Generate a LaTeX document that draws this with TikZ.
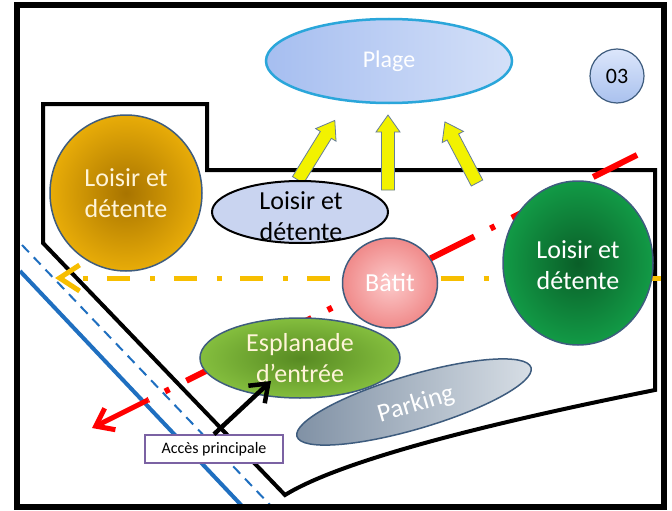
\documentclass[tikz,border=0pt]{standalone}
\usepackage{fontspec}
\setmainfont{Carlito}
\usetikzlibrary{shapes.geometric,arrows.meta}
\definecolor{goldout}{HTML}{E8AC08}
\definecolor{goldin}{HTML}{A87400}
\definecolor{greenout}{HTML}{129A46}
\definecolor{greenin}{HTML}{0A5E28}
\definecolor{pinkout}{HTML}{F08A8A}
\definecolor{pinkin}{HTML}{FCCACA}
\definecolor{espout}{HTML}{84BE3E}
\definecolor{espin}{HTML}{578A22}
\definecolor{parkA}{HTML}{7F90A4}
\definecolor{parkB}{HTML}{D8DFE6}
\definecolor{plA}{HTML}{A6BEF0}
\definecolor{plB}{HTML}{D4E0F8}
\definecolor{plageedge}{HTML}{2AA6DA}
\definecolor{bubedge}{HTML}{3E5C7E}
\definecolor{loisirblue}{HTML}{C9D4F0}
\definecolor{roadblue}{HTML}{1F6FC0}
\definecolor{orangeline}{HTML}{F7BE00}
\definecolor{accbox}{HTML}{7B62A3}
\definecolor{cream}{HTML}{FFF4D8}
\definecolor{yarr}{HTML}{F2F200}
\definecolor{yarrdark}{HTML}{A8A020}
\definecolor{numA}{HTML}{DCE6FB}
\definecolor{numB}{HTML}{A9C1EE}
\tikzset{
  shapebox/.style={ellipse, inner sep=0pt},
  bigtext/.style={align=center, inner sep=0pt, font=\fontsize{26}{31}\selectfont},
  site/.style={line width=4, line join=miter},
  yarrowsty/.style={draw=bubedge!80, line width=0.8, left color=yarr, middle color=yarrdark, right color=yarr},
  pics/yarr/.style={code={\draw[yarrowsty] (-6.5,0) -- (-6.5,-#1+17) -- (-12,-#1+17) -- (0,-#1) -- (12,-#1+17) -- (6.5,-#1+17) -- (6.5,0) -- cycle;}}
}
\begin{document}
\begin{tikzpicture}[x=1pt,y=-1pt]
\useasboundingbox (0,0) rectangle (672,511);
\fill[white] (0,0) rectangle (672,511);

% road lines
\coordinate (rs1) at (20,271);
\coordinate (rs2) at (243,507);
\coordinate (rd1) at (22,245);
\coordinate (rd2) at (272,507);
\draw[roadblue, line width=4] (rs1) -- (rs2);
\draw[roadblue, line width=2, dash pattern=on 10pt off 7pt] (rd1) -- (rd2);

% site outline
\draw[site] (43,104) -- (207,104) -- (207,170) -- (655,170) -- (655,390)
  .. controls (505,420) and (345,458) .. (285,495) -- (43,243) -- cycle;

% orange axis
\coordinate (o1) at (55,278);
\coordinate (o2) at (662,278);
\draw[orangeline, line width=5, dash pattern=on 23pt off 20pt on 5pt off 18.7pt, dash phase=21.7pt,
  {Straight Barb[length=20pt,width=26pt]}-] (o1) -- (o2);

% red axis
\coordinate (r1) at (637,155);
\coordinate (r2) at (148,400);
\coordinate (r3) at (92,428);
\draw[red, line width=6, dash pattern=on 49pt off 19pt on 5pt off 18pt] (r1) -- (r2);
\draw[red, line width=5, -{Straight Barb[length=16pt,width=24pt]}] (r2) -- (r3);

% yellow arrows
\pic[rotate=-31.7] at (298,180) {yarr=70};
\pic at (388,190) {yarr=75};
\pic[rotate=27.7] at (477,183) {yarr=69};

% nodes
\node[shapebox, draw=plageedge, line width=2.5, left color=plA, right color=plB,
  minimum width=246, minimum height=84] (plage) at (389,61) {};
\node[text=white, inner sep=0pt, font=\fontsize{24}{29}\selectfont] at (plage) {Plage};

\node[circle, draw=bubedge, line width=1.2, top color=numA, bottom color=numB,
  minimum size=54, inner sep=0pt, font=\fontsize{22}{26}\selectfont] (num) at (617,76) {03};

\node[shapebox, draw=bubedge, line width=1.5, inner color=goldin, outer color=goldout,
  minimum width=152, minimum height=156] (lo1) at (126,193) {};
\node[bigtext, text=cream] at (lo1) {Loisir et\\détente};

\node[shapebox, draw=black, line width=2, fill=loisirblue,
  minimum width=176, minimum height=62] (lo2) at (300,212) {};
\node[bigtext, text=black] at (301,216) {Loisir et\\détente};

\node[shapebox, draw=bubedge, line width=1.5, inner color=greenin, outer color=greenout,
  minimum width=150, minimum height=164] (lo3) at (578,263) {};
\node[bigtext, text=white] at (578,265) {Loisir et\\détente};

\node[shapebox, draw=bubedge, line width=1.5, inner color=espin, outer color=espout,
  minimum width=200, minimum height=80] (esp) at (300,358) {};
\node[bigtext, text=cream] at (esp) {Esplanade\\d’entrée};

\node[shapebox, draw=bubedge, line width=1.5, inner color=pinkin, outer color=pinkout,
  minimum width=95, minimum height=90] (bat) at (390,283) {};
\node[bigtext, text=white] at (bat) {Bâtit};

\node[shapebox, rotate=16.4, draw=bubedge, line width=1.5, left color=parkA, right color=parkB,
  minimum width=244, minimum height=54] (park) at (414,402) {};
\node[bigtext, text=white, rotate=16.4] at (416,405) {Parking};

% access box and arrow
\node[draw=accbox, line width=1.5, fill=white, minimum width=138, minimum height=28,
  inner sep=0pt, font=\fontsize{16}{19}\selectfont] (acc) at (214,449) {Accès principale};
\coordinate (esptip) at (271,381);
\draw[black, line width=4.5, -{Straight Barb[length=16pt,width=24pt]}] (acc.north) -- (esptip);

% frame
\draw[line width=6] (17,5) rectangle (664,507);
\end{tikzpicture}
\end{document}
